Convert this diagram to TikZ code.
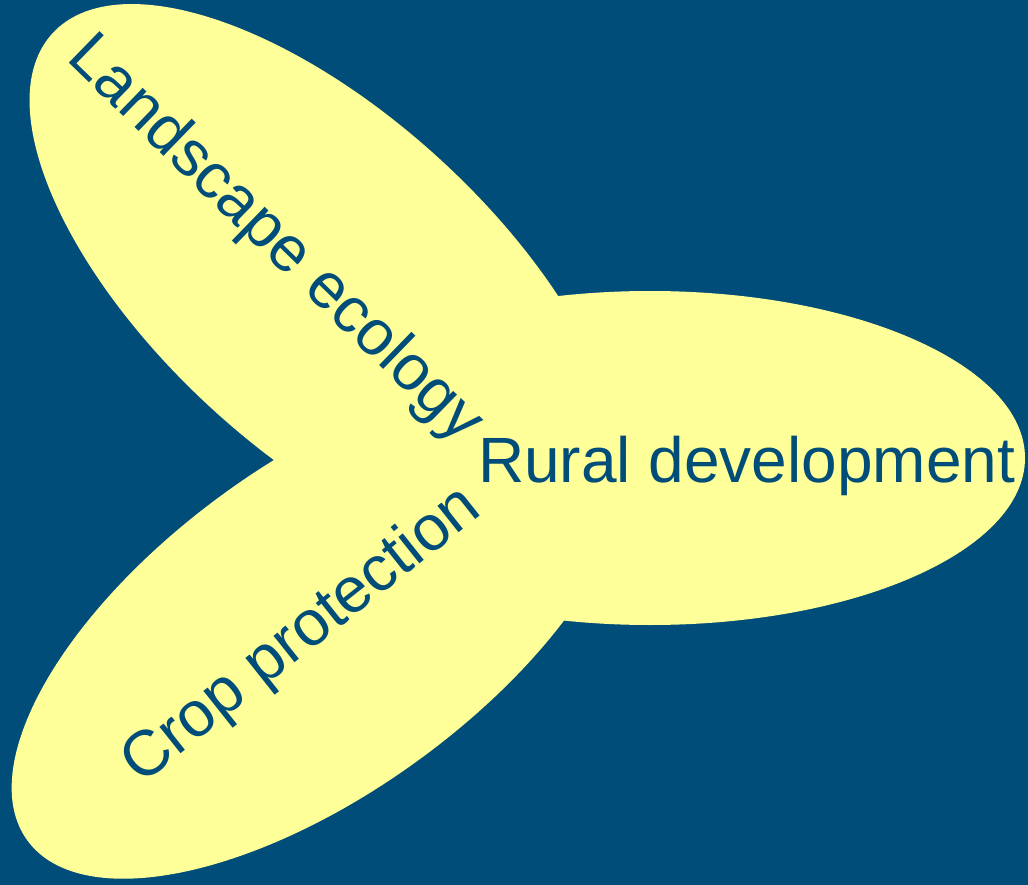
\documentclass[tikz,border=0pt]{standalone}
\usepackage{fontspec}
\setmainfont{Liberation Sans}
\definecolor{bgblue}{RGB}{0,77,121}
\definecolor{petal}{RGB}{255,255,153}
\tikzset{
  petalfill/.style={fill=petal, draw=none},
  lbl/.style={text=bgblue, inner sep=0pt, outer sep=0pt, anchor=base west, font=\fontsize{64}{76}\selectfont}
}
\begin{document}
\begin{tikzpicture}[x=1pt,y=-1pt]
\fill[bgblue] (0,0) rectangle (1028,885);
\useasboundingbox (0,0) rectangle (1028,885);
% petals
\fill[petalfill, rotate around={-42.5:(326,284)}] (326,284) ellipse [x radius=371pt, y radius=169pt];
\fill[petalfill, rotate around={36:(321,627)}] (321,627) ellipse [x radius=363pt, y radius=165pt];
\fill[petalfill] (650,458) ellipse [x radius=375pt, y radius=167pt];
% labels
\node[lbl, rotate=-44.2] (land) at (65,60) {Landscape ecology};
\node[lbl, rotate=38.4] (crop) at (141,785) {Crop protection};
\node[lbl] (rural) at (478,482) {Rural development};
\end{tikzpicture}
\end{document}
